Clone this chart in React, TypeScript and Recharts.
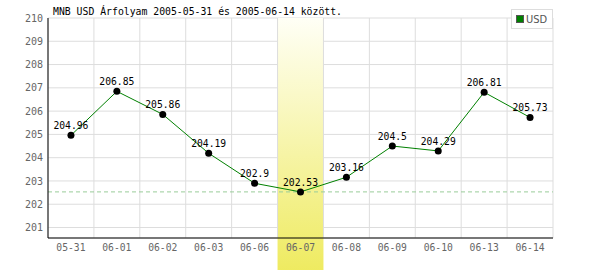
import { ComposedChart, Line, XAxis, YAxis, CartesianGrid, ReferenceLine, ReferenceArea, LabelList } from 'recharts';

const dates = ['05-31', '06-01', '06-02', '06-03', '06-06', '06-07', '06-08', '06-09', '06-10', '06-13', '06-14'];
const usd = [204.96, 206.85, 205.86, 204.19, 202.9, 202.53, 203.16, 204.5, 204.29, 206.81, 205.73];
const yTicks = [201, 202, 203, 204, 205, 206, 207, 208, 209, 210];
const highlightDate = '06-07';

const mono = '"DejaVu Sans Mono", monospace';

const data = dates.map((d, i) => ({ idx: i, date: d, usd: usd[i] }));
const minValue = Math.min(...usd);
const hi = dates.indexOf(highlightDate);
const boundaries = dates.map((_, i) => i - 0.5).concat(dates.length - 0.5);

// band runs past the x axis down to the bottom edge of the picture
const BandShape = (props: any) => {
  const { x, y, width, height } = props;
  return (
    <g>
      <defs>
        <linearGradient id="band" x1="0" y1="0" x2="0" y2="1">
          <stop offset="0%" stopColor="#fffff6" />
          <stop offset="100%" stopColor="#eeea5c" />
        </linearGradient>
      </defs>
      <rect x={x} y={y} width={width} height={height + 40} fill="url(#band)" />
    </g>
  );
};

export default function App() {
  return (
    <div style={{ position: 'relative', width: 600, height: 270, background: '#fff' }}>
      <style>{'body { margin: 0; } svg { overflow: visible; }'}</style>
      <div
        style={{
          position: 'absolute',
          left: 53,
          top: 6,
          fontFamily: mono,
          fontSize: 9.8,
          color: '#000',
          whiteSpace: 'nowrap',
          zIndex: 2,
        }}
      >
        MNB USD Árfolyam 2005-05-31 és 2005-06-14 között.
      </div>
      <div
        style={{
          position: 'absolute',
          left: 511,
          top: 9,
          width: 42,
          height: 20,
          boxSizing: 'border-box',
          border: '1px solid #ddd',
          background: '#fff',
          display: 'flex',
          alignItems: 'center',
          paddingLeft: 4,
          fontFamily: '"Liberation Sans Narrow", "DejaVu Sans Condensed", sans-serif',
          fontSize: 11,
          color: '#555',
          zIndex: 2,
        }}
      >
        <span style={{ display: 'inline-block', width: 6, height: 6, background: '#008000', border: '1px solid #555', marginRight: 2 }} />
        USD
      </div>
      <ComposedChart width={600} height={270} data={data} margin={{ top: 18, right: 47, left: 0, bottom: 0 }}>
        <CartesianGrid vertical={false} stroke="#dddddd" />
        {boundaries.map((b) => (
          <ReferenceLine key={b} x={b} stroke="#dddddd" />
        ))}
        <ReferenceLine y={minValue} stroke="#99cc99" strokeDasharray="4 3" />
        <ReferenceArea x1={hi - 0.5} x2={hi + 0.5} ifOverflow="visible" shape={<BandShape />} />
        <XAxis
          type="number"
          dataKey="idx"
          domain={[-0.5, dates.length - 0.5]}
          ticks={data.map((d) => d.idx)}
          tickFormatter={(v) => dates[v]}
          height={32}
          tickSize={0}
          tickMargin={6}
          axisLine={{ stroke: '#000' }}
          tick={{ fill: '#666', fontSize: 9.7, fontFamily: mono }}
        />
        <YAxis
          domain={[200.55, 210]}
          ticks={yTicks}
          width={48}
          tickSize={0}
          tickMargin={5}
          axisLine={{ stroke: '#000' }}
          tick={{ fill: '#666', fontSize: 10, fontFamily: mono }}
        />
        <Line
          type="linear"
          dataKey="usd"
          stroke="#008000"
          strokeWidth={1}
          dot={{ r: 3.5, fill: '#000', strokeWidth: 0 }}
          isAnimationActive={false}
        >
          <LabelList dataKey="usd" position="top" offset={6} fill="#000" fontSize={9.7} fontFamily={mono} />
        </Line>
      </ComposedChart>
    </div>
  );
}
